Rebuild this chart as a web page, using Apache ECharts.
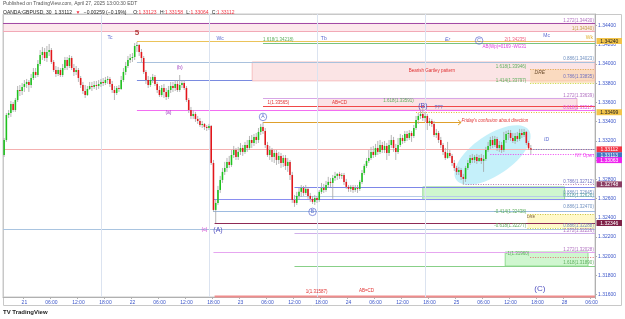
<!DOCTYPE html>
<html><head><meta charset="utf-8">
<script src="https://cdn.jsdelivr.net/npm/echarts@6/dist/echarts.min.js"></script>
<style>html,body{margin:0;padding:0;background:#fff}#c{width:625px;height:319px}</style>
</head><body><div id="c"></div>
<script>
// ---------- DATA ----------
const startTime = Date.UTC(2025, 3, 20, 19, 30); // first visible 30-min bar (New York time)
const barCount = 263;                           // visible slots incl. future area
// [open, close, low, high]
const bars = [
[1.33054,1.33210,1.33034,1.33231],[1.33210,1.33470,1.33190,1.33491],[1.33470,1.33491,1.33439,1.33522],[1.33491,1.33585,1.33450,1.33616],
[1.33585,1.33522,1.33502,1.33606],[1.33522,1.33626,1.33502,1.33647],[1.33626,1.33730,1.33606,1.33772],[1.33730,1.33720,1.33668,1.33782],
[1.33720,1.33762,1.33678,1.33803],[1.33762,1.33793,1.33710,1.33834],[1.33793,1.33814,1.33751,1.33845],[1.33814,1.33782,1.33710,1.33834],
[1.33782,1.33855,1.33751,1.33897],[1.33855,1.33918,1.33834,1.33959],[1.33918,1.33886,1.33855,1.33959],[1.33886,1.34001,1.33866,1.34042],
[1.34001,1.34094,1.33980,1.34146],[1.34094,1.34126,1.34042,1.34178],[1.34126,1.34063,1.34032,1.34167],[1.34063,1.34126,1.34022,1.34188],
[1.34126,1.34146,1.34084,1.34209],[1.34146,1.34022,1.34001,1.34167],[1.34022,1.33938,1.33918,1.34042],[1.33938,1.33897,1.33866,1.33980],
[1.33897,1.33938,1.33876,1.33970],[1.33938,1.33886,1.33866,1.33959],[1.33886,1.33959,1.33866,1.34001],[1.33959,1.34042,1.33938,1.34074],
[1.34042,1.33980,1.33938,1.34074],[1.33980,1.34063,1.33959,1.34094],[1.34063,1.33959,1.33938,1.34084],[1.33959,1.33918,1.33876,1.34001],
[1.33918,1.33938,1.33886,1.33980],[1.33938,1.33855,1.33814,1.33959],[1.33855,1.33782,1.33751,1.33876],[1.33782,1.33720,1.33689,1.33814],
[1.33720,1.33678,1.33647,1.33782],[1.33678,1.33741,1.33668,1.33772],[1.33741,1.33772,1.33730,1.33814],[1.33772,1.33762,1.33720,1.33814],
[1.33762,1.33782,1.33741,1.33824],[1.33782,1.33772,1.33730,1.33824],[1.33772,1.33793,1.33741,1.33834],[1.33793,1.33814,1.33762,1.33845],
[1.33814,1.33803,1.33772,1.33855],[1.33803,1.33834,1.33782,1.33866],[1.33834,1.33845,1.33793,1.33876],[1.33845,1.33793,1.33762,1.33866],
[1.33793,1.33730,1.33699,1.33824],[1.33730,1.33699,1.33626,1.33772],[1.33699,1.33751,1.33678,1.33772],[1.33751,1.33741,1.33710,1.33782],
[1.33741,1.33834,1.33730,1.33876],[1.33834,1.33918,1.33814,1.33959],[1.33918,1.33980,1.33886,1.34022],[1.33980,1.34042,1.33959,1.34084],
[1.34042,1.34063,1.34011,1.34105],[1.34063,1.34074,1.34022,1.34115],[1.34074,1.34188,1.34042,1.34219],[1.34188,1.34198,1.34126,1.34230],
[1.34198,1.34126,1.34084,1.34209],[1.34126,1.34063,1.34022,1.34157],[1.34063,1.33918,1.33897,1.34084],[1.33918,1.33834,1.33793,1.33938],
[1.33834,1.33782,1.33751,1.33876],[1.33782,1.33834,1.33762,1.33866],[1.33834,1.33866,1.33803,1.33897],[1.33866,1.33793,1.33772,1.33886],
[1.33793,1.33730,1.33699,1.33814],[1.33730,1.33678,1.33658,1.33772],[1.33678,1.33751,1.33658,1.33782],[1.33751,1.33710,1.33647,1.33793],
[1.33710,1.33658,1.33626,1.33751],[1.33658,1.33730,1.33637,1.33772],[1.33730,1.33772,1.33699,1.33814],[1.33772,1.33751,1.33710,1.33814],
[1.33751,1.33793,1.33720,1.33834],[1.33793,1.33730,1.33710,1.33834],[1.33730,1.33782,1.33710,1.33886],[1.33782,1.33803,1.33751,1.33834],
[1.33803,1.33751,1.33730,1.33834],[1.33751,1.33626,1.33606,1.33772],[1.33626,1.33522,1.33491,1.33647],[1.33522,1.33460,1.33429,1.33554],
[1.33460,1.33481,1.33429,1.33522],[1.33481,1.33429,1.33398,1.33502],[1.33429,1.33408,1.33377,1.33460],[1.33408,1.33366,1.33346,1.33439],
[1.33366,1.33377,1.33335,1.33408],[1.33377,1.33346,1.33314,1.33387],[1.33346,1.33335,1.33304,1.33366],[1.33335,1.33356,1.33314,1.33377],
[1.33356,1.32971,1.32950,1.33366],[1.32971,1.32482,1.32462,1.33002],[1.32482,1.32555,1.32346,1.32586],[1.32555,1.32690,1.32534,1.32732],
[1.32690,1.32794,1.32659,1.32836],[1.32794,1.32878,1.32763,1.32919],[1.32878,1.32919,1.32846,1.32982],[1.32919,1.32982,1.32878,1.33023],
[1.32982,1.32950,1.32919,1.33044],[1.32950,1.33054,1.32930,1.33106],[1.33054,1.33106,1.33023,1.33148],[1.33106,1.33034,1.33002,1.33127],
[1.33034,1.33086,1.33002,1.33138],[1.33086,1.33127,1.33054,1.33179],[1.33127,1.33086,1.33044,1.33158],[1.33086,1.33158,1.33065,1.33190],
[1.33158,1.33127,1.33086,1.33210],[1.33127,1.33210,1.33106,1.33252],[1.33210,1.33179,1.33127,1.33262],[1.33179,1.33242,1.33148,1.33273],
[1.33242,1.33210,1.33169,1.33283],[1.33210,1.33294,1.33179,1.33335],[1.33294,1.33346,1.33262,1.33377],[1.33346,1.33304,1.33273,1.33398],
[1.33304,1.33158,1.33127,1.33335],[1.33158,1.33054,1.33034,1.33190],[1.33054,1.33106,1.33002,1.33148],[1.33106,1.33034,1.32982,1.33127],
[1.33034,1.33075,1.32971,1.33106],[1.33075,1.33002,1.32950,1.33106],[1.33002,1.33044,1.32961,1.33086],[1.33044,1.32971,1.32919,1.33075],
[1.32971,1.33023,1.32930,1.33054],[1.33023,1.32940,1.32898,1.33054],[1.32940,1.32982,1.32878,1.33023],[1.32982,1.32846,1.32794,1.33002],
[1.32846,1.32586,1.32555,1.32878],[1.32586,1.32555,1.32514,1.32638],[1.32555,1.32628,1.32534,1.32670],[1.32628,1.32670,1.32586,1.32711],
[1.32670,1.32711,1.32618,1.32742],[1.32711,1.32659,1.32628,1.32732],[1.32659,1.32701,1.32638,1.32742],[1.32701,1.32628,1.32597,1.32722],
[1.32628,1.32597,1.32566,1.32659],[1.32597,1.32566,1.32545,1.32628],[1.32566,1.32607,1.32534,1.32638],[1.32607,1.32586,1.32555,1.32628],
[1.32586,1.32670,1.32566,1.32690],[1.32670,1.32711,1.32649,1.32763],[1.32711,1.32690,1.32659,1.32753],[1.32690,1.32742,1.32670,1.32784],
[1.32742,1.32774,1.32711,1.32826],[1.32774,1.32763,1.32722,1.32815],[1.32763,1.32815,1.32597,1.32846],[1.32815,1.32836,1.32784,1.32878],
[1.32836,1.32857,1.32794,1.32867],[1.32857,1.32836,1.32805,1.32878],[1.32836,1.32846,1.32805,1.32867],[1.32846,1.32774,1.32742,1.32867],
[1.32774,1.32722,1.32701,1.32805],[1.32722,1.32701,1.32670,1.32742],[1.32701,1.32722,1.32670,1.32742],[1.32722,1.32690,1.32659,1.32742],
[1.32690,1.32711,1.32670,1.32742],[1.32711,1.32701,1.32659,1.32742],[1.32701,1.32774,1.32680,1.32794],[1.32774,1.32867,1.32753,1.32898],
[1.32867,1.32940,1.32846,1.32961],[1.32940,1.32992,1.32919,1.33023],[1.32992,1.33023,1.32971,1.33106],[1.33023,1.33086,1.33002,1.33138],
[1.33086,1.33054,1.33023,1.33148],[1.33054,1.33127,1.33034,1.33169],[1.33127,1.33086,1.33054,1.33200],[1.33086,1.33158,1.33065,1.33210],
[1.33158,1.33106,1.33075,1.33190],[1.33106,1.33148,1.33075,1.33200],[1.33148,1.33075,1.33002,1.33179],[1.33075,1.33158,1.33044,1.33210],
[1.33158,1.33210,1.33127,1.33262],[1.33210,1.33127,1.33086,1.33242],[1.33127,1.33086,1.33002,1.33169],[1.33086,1.33158,1.33065,1.33231],
[1.33158,1.33231,1.33138,1.33273],[1.33231,1.33200,1.33169,1.33262],[1.33200,1.33273,1.33179,1.33304],[1.33273,1.33231,1.33200,1.33304],
[1.33231,1.33283,1.33210,1.33314],[1.33283,1.33252,1.33190,1.33304],[1.33252,1.33335,1.33231,1.33366],[1.33335,1.33418,1.33314,1.33460],
[1.33418,1.33460,1.33377,1.33491],[1.33460,1.33481,1.33429,1.33522],[1.33481,1.33439,1.33408,1.33543],[1.33439,1.33460,1.33398,1.33502],
[1.33460,1.33387,1.33314,1.33481],[1.33387,1.33408,1.33356,1.33439],[1.33408,1.33377,1.33346,1.33429],[1.33377,1.33262,1.33242,1.33408],
[1.33262,1.33283,1.33231,1.33325],[1.33283,1.33210,1.33179,1.33304],[1.33210,1.33158,1.33127,1.33242],[1.33158,1.33086,1.33054,1.33179],
[1.33086,1.33023,1.33002,1.33127],[1.33023,1.33075,1.33013,1.33190],[1.33075,1.33044,1.33023,1.33106],[1.33044,1.32971,1.32940,1.33065],
[1.32971,1.32919,1.32888,1.33002],[1.32919,1.32878,1.32846,1.32940],[1.32878,1.32898,1.32846,1.32930],[1.32898,1.32826,1.32794,1.32919],
[1.32826,1.32805,1.32742,1.32857],[1.32805,1.32919,1.32774,1.32940],[1.32919,1.32971,1.32898,1.33002],[1.32971,1.33023,1.32950,1.33054],
[1.33023,1.33002,1.32971,1.33065],[1.33002,1.33034,1.32971,1.33054],[1.33034,1.32992,1.32961,1.33065],[1.32992,1.33023,1.32982,1.33054],
[1.33023,1.32992,1.32961,1.33065],[1.32992,1.33013,1.32878,1.33054],[1.33013,1.33106,1.32992,1.33138],[1.33106,1.33148,1.33086,1.33190],
[1.33148,1.33210,1.33117,1.33242],[1.33210,1.33158,1.33127,1.33252],[1.33158,1.33221,1.33138,1.33252],[1.33221,1.33127,1.33096,1.33242],
[1.33127,1.33158,1.33086,1.33200],[1.33158,1.33106,1.33075,1.33190],[1.33106,1.33210,1.33086,1.33294],[1.33210,1.33273,1.33179,1.33304],
[1.33273,1.33283,1.33210,1.33314],[1.33283,1.33231,1.33200,1.33314],[1.33231,1.33200,1.33179,1.33283],[1.33200,1.33252,1.33169,1.33283],
[1.33252,1.33221,1.33190,1.33294],[1.33221,1.33283,1.33200,1.33325],[1.33283,1.33262,1.33231,1.33325],[1.33262,1.33294,1.33242,1.33325],
[1.33294,1.33179,1.33158,1.33304],[1.33179,1.33123,1.33106,1.33200],[1.33123,1.33112,1.33064,1.33158]
];
const yTicks = [1.316,1.318,1.320,1.322,1.324,1.326,1.328,1.330,1.332,1.334,1.336,1.338,1.340,1.342,1.344];
const yMin = 1.31576, yMax = 1.34521;
const sessionBreaks = [43, 91, 139, 187];       // bar index of 17:00 NY session opens
const xTickTimes = ['00:00','06:00','12:00','18:00'];

// ---------- DRAWING OBJECTS (bar index / price) ----------
const S = -0.5, E = 262.5;
const levels = [
  {p:1.34430,a:S,b:E,c:'#a24aa6'},
  {p:1.34340,a:S,b:E,c:'#f2a9b6'},
  {p:1.34238,a:59,b:E,c:'#ebc35a'},
  {p:1.34216,a:115,b:E,c:'#79c37c'},
  {p:1.34235,a:233.7,b:E,c:'#f09a9a',t:'dotted'},
  {p:1.34022,a:59,b:E,c:'#a9c1dd'},
  {p:1.33834,a:59,b:110.2,c:'#7a8be0'},
  {p:1.33946,a:233.7,b:E,c:'#e2a24a',t:'dotted'},
  {p:1.33800,a:233.7,b:E,c:'#c7da3a',t:'dotted'},
  {p:1.33642,a:115,b:254.5,c:'#d7a6e6'},
  {p:1.33565,a:115,b:E,c:'#f04848'},
  {p:1.33517,a:59,b:E,c:'#f26ef2'},
  {p:1.33499,a:183,b:E,c:'#e6b42c',t:'dotted'},
  {p:1.33398,a:115,b:203,c:'#dfa02c',arrow:1},
  {p:1.33112,a:S,b:E,c:'#f4b0b0'},
  {p:1.33113,a:234,b:E,c:'#4a78c8',t:'dotted'},
  {p:1.33063,a:216,b:E,c:'#f040f0',t:'dotted'},
  {p:1.32748,a:205,b:E,c:'#b77ab0',t:'dotted'},
  {p:1.32722,a:129,b:E,c:'#7d86e8'},
  {p:1.32628,a:129,b:E,c:'#b6cbe8'},
  {p:1.32597,a:93,b:E,c:'#8a8ef0'},
  {p:1.32470,a:93,b:E,c:'#9dbbe0'},
  {p:1.32441,a:232.5,b:E,c:'#c8c040',t:'dotted'},
  {p:1.32346,a:93.5,b:E,c:'#8e2a55'},
  {p:1.32288,a:S,b:E,c:'#a9c4e0'},
  {p:1.32295,a:232.5,b:E,c:'#c7da3a',t:'dotted'},
  {p:1.32242,a:129,b:E,c:'#cfb0ea'},
  {p:1.32044,a:93,b:E,c:'#e6a6f0'},
  {p:1.31898,a:129,b:E,c:'#88d088'},
  {p:1.31995,a:233.7,b:E,c:'#e07070',t:'dotted'},
  {p:1.31590,a:93.5,b:E,c:'#f08c8c',w:2}
];
const boxes = [
  {a:S,b:E,p1:1.34430,p2:1.34340,f:'rgba(248,190,200,0.35)'},
  {a:59,b:110.2,p1:1.34022,p2:1.33834,f:'rgba(255,255,255,0.9)'},
  {a:110.2,b:E,p1:1.34022,p2:1.33825,f:'rgba(246,190,192,0.42)',bc:'#f4b4b4'},
  {a:233.7,b:E,p1:1.33946,p2:1.33800,f:'rgba(250,210,160,0.55)'},
  {a:139.4,b:254.5,p1:1.33642,p2:1.33520,f:'rgba(246,186,196,0.42)',bc:'#f0a8b0'},
  {a:186,b:249,p1:1.32722,p2:1.32590,f:'rgba(160,238,160,0.5)',bc:'#7fd07f'},
  {a:232.5,b:E,p1:1.32441,p2:1.32295,f:'rgba(255,245,165,0.6)'},
  {a:222.6,b:259.4,p1:1.32044,p2:1.31898,f:'rgba(160,238,160,0.5)',bc:'#7cd67c'}
];
const priceTags = [
  {p:1.34240,bg:'#f2c44a',fg:'#222',dy:0},
  {p:1.33499,bg:'#f2c44a',fg:'#222',dy:0},
  {p:1.33112,bg:'#f23645',fg:'#fff',dy:0},
  {p:1.33113,bg:'#3f74c0',fg:'#fff',dy:6},
  {p:1.33063,bg:'#ee22ee',fg:'#fff',dy:6},
  {p:1.32748,bg:'#8b3d63',fg:'#fff',dy:0},
  {p:1.32346,bg:'#7f2147',fg:'#fff',dy:0}
];
const notes = [
  {i:47.1,p:1.34271,t:'Tc',c:'#5b6ad0',s:5},
  {i:59,p:1.34330,t:'5',c:'#b23a3a',s:8,b:1},
  {i:96.4,p:1.34261,t:'Wc',c:'#5b6ad0',s:5},
  {i:142.1,p:1.34261,t:'Tb',c:'#5b6ad0',s:5},
  {i:197.2,p:1.34250,t:'Er',c:'#5b6ad0',s:5,it:1},
  {i:211.4,p:1.34245,t:'C',c:'#5b6ad0',s:5,o:1},
  {i:232.3,p:1.34250,t:'2(1.34235)',c:'#f06080',al:'right'},
  {i:241.2,p:1.34292,t:'Mc',c:'#5b6ad0',s:5},
  {i:260.3,p:1.34271,t:'Wk',c:'#e0b030',s:5},
  {i:232.3,p:1.34178,t:'AB(Wp)=0169 -WG31',c:'#e040e0',al:'right'},
  {i:262.3,p:1.34451,t:'1.272(1.34430)',c:'#b070c0',al:'right'},
  {i:262.3,p:1.34365,t:'1(1.34340)',c:'#c0a040',al:'right'},
  {i:115,p:1.34252,t:'1.618(1.34218)',c:'#60b060',al:'left'},
  {i:262.3,p:1.34053,t:'0.886(1.34023)',c:'#7090c0',al:'right'},
  {i:232.3,p:1.33970,t:'1.618(1.33946)',c:'#60b060',al:'right'},
  {i:190,p:1.33928,t:'Bearish Gartley pattern',c:'#e03030'},
  {i:238,p:1.33907,t:'DRE',c:'#705030',s:5,it:1},
  {i:262.3,p:1.33866,t:'0.786(1.33835)',c:'#7070c0',al:'right'},
  {i:232.3,p:1.33824,t:'1.414(1.33797)',c:'#60b060',al:'right'},
  {i:78.1,p:1.33959,t:'(b)',c:'#a040c0',s:5},
  {i:72.8,p:1.33491,t:'(a)',c:'#a040c0',s:5},
  {i:262.3,p:1.33668,t:'1.272(1.33639)',c:'#b070c0',al:'right'},
  {i:116.8,p:1.33595,t:'1(1.33565)',c:'#e03030',al:'left'},
  {i:149.2,p:1.33595,t:'AB=CD',c:'#e03030'},
  {i:181.6,p:1.33616,t:'1.618(1.33591)',c:'#60b060',al:'right'},
  {i:262.3,p:1.33543,t:'0.618(1.33517)',c:'#e050e0',al:'right'},
  {i:186,p:1.33560,t:'(B)',c:'#5050c0',s:7},
  {i:192.8,p:1.33543,t:'???',c:'#5b6ad0',s:5},
  {i:115,p:1.33450,t:'A',c:'#5b6ad0',s:5,o:1},
  {i:217.7,p:1.33408,t:"Friday's confusion about direction",c:'#e03030',it:1},
  {i:241.2,p:1.33210,t:'ID',c:'#5b6ad0',s:5,it:1},
  {i:262.3,p:1.33044,t:'NY Open',c:'#f040f0',al:'right'},
  {i:262.3,p:1.32773,t:'0.786(1.32712)',c:'#7070c0',al:'right'},
  {i:262.3,p:1.32665,t:'0.886(1.32645)',c:'#7090c0',al:'right'},
  {i:262.3,p:1.32630,t:'0.618(1.32626)',c:'#5aa0a0',al:'right'},
  {i:262.3,p:1.32514,t:'0.886(1.32470)',c:'#7090c0',al:'right'},
  {i:232.3,p:1.32462,t:'-0.414(1.32438)',c:'#60b060',al:'right'},
  {i:233.6,p:1.32410,t:'DRE',c:'#705030',s:4},
  {i:232.3,p:1.32316,t:'-0.618(1.32277)',c:'#60b060',al:'right'},
  {i:262.3,p:1.32316,t:'0.886(1.32288)',c:'#7090c0',al:'right'},
  {i:262.3,p:1.32262,t:'1.272(1.32226)',c:'#b070c0',al:'right'},
  {i:262.3,p:1.32065,t:'1.272(1.32028)',c:'#b070c0',al:'right'},
  {i:222.6,p:1.32024,t:'-1(1.31960)',c:'#60b060',al:'left'},
  {i:262.3,p:1.31930,t:'1.618(1.31890)',c:'#60b060',al:'right'},
  {i:238.3,p:1.31659,t:'(C)',c:'#5050c0',s:8},
  {i:89.3,p:1.32273,t:'(c)',c:'#d040d0',s:5},
  {i:94.6,p:1.32273,t:'(A)',c:'#5050c0',s:7},
  {i:137.2,p:1.32462,t:'B',c:'#5b6ad0',s:5,o:1},
  {i:134,p:1.31628,t:'1(1.31587)',c:'#e03030',al:'left'},
  {i:161.3,p:1.31638,t:'AB=CD',c:'#e03030'}
];
const ellipse = {i:217.2, p:1.33054};

// ---------- BUILD ----------
const categories = [];
{
  let t = startTime;
  for (let k = 0; k < barCount; k++) {
    categories.push(new Date(t).toISOString().slice(0,16).replace('T',' '));
    t += 1800000;
    const n = new Date(t);
    if (n.getUTCDay() === 5 && n.getUTCHours() === 17 && n.getUTCMinutes() === 0) t += 48*3600000;
  }
}
const isTick = (idx, v) => xTickTimes.includes(String(v).slice(11));
const fmtX = v => { const hm = v.slice(11); return hm === '00:00' ? String(+v.slice(8,10)) : hm; };

const FONT = '"Liberation Sans", Arial, sans-serif';
const chart = echarts.init(document.getElementById('c'), null, {renderer:'canvas'});

// x pixel of a (possibly fractional) bar position, via the category axis
function xAt(api, cs, i) {
  const k = Math.max(0, Math.min(barCount - 1, Math.round(i)));
  const x = api.coord([k, yMin])[0] + (i - k) * api.size([1, 0])[0];
  return Math.max(cs.x, Math.min(cs.x + cs.width, x));
}
const yAt = (api, p) => api.coord([0, p])[1];

const option = {
  animation:false,
  textStyle:{fontFamily:FONT},
  grid:{left:3, right:30, top:14, bottom:22, show:true, borderColor:'#c8c8c8', borderWidth:1},
  xAxis:{
    type:'category', data:categories, boundaryGap:true,
    axisLine:{show:true, lineStyle:{color:'#b0b0b0'}},
    axisTick:{show:true, interval:isTick, length:2, lineStyle:{color:'#b0b0b0'}},
    axisLabel:{interval:isTick, formatter:fmtX, fontSize:5, color:'#3b55c9', margin:3, fontFamily:FONT},
    splitLine:{show:false}
  },
  yAxis:{
    type:'value', position:'right', min:yMin, max:yMax, scale:true,
    axisLine:{show:true, lineStyle:{color:'#b0b0b0'}},
    axisTick:{show:true, customValues:yTicks, length:2, lineStyle:{color:'#b0b0b0'}},
    axisLabel:{customValues:yTicks, formatter:v => v.toFixed(5), fontSize:5, color:'#3b55c9', margin:3, fontFamily:FONT},
    splitLine:{show:false}
  },
  graphic:[
    {type:'rect', shape:{x:3.5,y:14.5,width:618,height:291}, style:{fill:'none', stroke:'#c8c8c8', lineWidth:1}, z:-1},
    {type:'text', left:3, top:1, style:{text:'Published on TradingView.com, April 27, 2025 13:00:30 EDT', fontSize:5, fill:'#555', fontFamily:FONT}},
    {type:'text', left:3, top:7, style:{
      text:'{k|OANDA:GBPUSD, 30  1.33112} {r|▼} {k|−0.00259 (−0.19%)}  {k|O:}{r|1.33123} {k|H:}{r|1.33158} {k|L:}{r|1.33064} {k|C:}{r|1.33112}',
      rich:{k:{fontSize:5, fill:'#222', fontFamily:FONT}, r:{fontSize:5, fill:'#f23645', fontFamily:FONT}}}},
    {type:'text', left:3, top:309, style:{text:'TV TradingView', fontSize:6, fontWeight:'bold', fill:'#222', fontFamily:FONT}}
  ],
  series:[
    { // session breaks
      type:'line', data:[], silent:true, z:1,
      markLine:{silent:true, symbol:['none','none'], label:{show:false}, animation:false,
        data:sessionBreaks.map(s => ({xAxis:s, lineStyle:{color:'#dbe3f0', width:1, type:'solid'}}))}
    },
    { // boxes
      type:'custom', z:2, silent:true, clip:false,
      data:boxes.map(b => [b.a, b.p1]),
      renderItem:(params, api) => {
        const b = boxes[params.dataIndex], cs = params.coordSys;
        const x1 = xAt(api, cs, b.a), x2 = xAt(api, cs, b.b);
        const y1 = yAt(api, b.p1), y2 = yAt(api, b.p2);
        return {type:'rect', shape:{x:x1, y:Math.min(y1,y2), width:x2-x1, height:Math.abs(y2-y1)},
          style:{fill:b.f, stroke:b.bc||null, lineWidth:b.bc?0.8:0}};
      }
    },
    { // ellipse
      type:'custom', z:3, silent:true, data:[[ellipse.i, ellipse.p]],
      renderItem:(params, api) => {
        const c = api.coord([api.value(0), api.value(1)]);
        return {type:'ellipse', x:c[0], y:c[1], rotation:0.6,
          shape:{cx:0, cy:0, rx:44, ry:20}, style:{fill:'rgba(140,225,245,0.5)'}};
      }
    },
    { // levels
      type:'custom', z:4, silent:true, clip:false,
      data:levels.map(l => [l.a, l.p]),
      renderItem:(params, api) => {
        const l = levels[params.dataIndex], cs = params.coordSys;
        const x1 = xAt(api, cs, l.a), x2 = xAt(api, cs, l.b), y = Math.round(yAt(api, l.p)) + 0.5;
        const kids = [{type:'line', shape:{x1, y1:y, x2, y2:y},
          style:{stroke:l.c, lineWidth:l.w||1, lineDash:l.t==='dotted'?[1,1.5]:null}}];
        if (l.arrow) kids.push({type:'polyline', shape:{points:[[x2-3,y-2.5],[x2,y],[x2-3,y+2.5]]}, style:{stroke:l.c, lineWidth:1, fill:null}});
        return {type:'group', children:kids};
      }
    },
    { // candles
      type:'custom', z:5, silent:true,
      data:bars.map((b,i) => [i, b[0], b[1], b[2], b[3]]),
      encode:{x:0, y:[1,2,3,4]},
      renderItem:(params, api) => {
        const i = api.value(0), o = api.value(1), c = api.value(2), l = api.value(3), h = api.value(4);
        const po = api.coord([i,o]), pc = api.coord([i,c]), pl = api.coord([i,l]), ph = api.coord([i,h]);
        const w = api.size([1,0])[0]*0.7;
        const top = Math.min(po[1], pc[1]);
        const bh = Math.max(Math.abs(po[1]-pc[1]), 0.8);
        return {type:'group', children:[
          {type:'line', shape:{x1:ph[0], y1:ph[1], x2:pl[0], y2:pl[1]}, style:{stroke:'#a3a3a3', lineWidth:0.8}},
          {type:'rect', shape:{x:po[0]-w/2, y:top, width:w, height:bh}, style:{fill: c >= o ? '#1ec21e' : '#e3161b'}}
        ]};
      }
    },
    { // text notes
      type:'custom', z:6, silent:true, clip:false,
      data:notes.map(n => [n.i, n.p]),
      renderItem:(params, api) => {
        const n = notes[params.dataIndex];
        const p = api.coord([api.value(0), api.value(1)]);
        const size = n.s || 4.5;
        const kids = [{type:'text', x:p[0], y:p[1], style:{
          text:n.t, fill:n.c, fontSize:size, fontFamily:FONT, fontWeight:n.b?'bold':'normal',
          fontStyle:n.it?'italic':'normal', align:n.al||'center', verticalAlign:'middle'}}];
        if (n.o) kids.unshift({type:'circle', shape:{cx:p[0], cy:p[1], r:size*0.75}, style:{fill:'none', stroke:n.c, lineWidth:0.7}});
        return {type:'group', children:kids};
      }
    },
    { // price tags on the right axis
      type:'custom', z:10, silent:true, clip:false,
      data:priceTags.map(t => [barCount-1, t.p]),
      renderItem:(params, api) => {
        const t = priceTags[params.dataIndex], cs = params.coordSys;
        const x = cs.x + cs.width + 1.5, y = yAt(api, t.p) + t.dy;
        return {type:'group', children:[
          {type:'rect', shape:{x, y:y-3, width:25.5, height:6}, style:{fill:t.bg}},
          {type:'text', x:x+12.75, y:y+0.3, style:{text:t.p.toFixed(5), fill:t.fg, fontSize:5, fontFamily:FONT, align:'center', verticalAlign:'middle'}}
        ]};
      }
    }
  ]
};
chart.setOption(option);
</script></body></html>
